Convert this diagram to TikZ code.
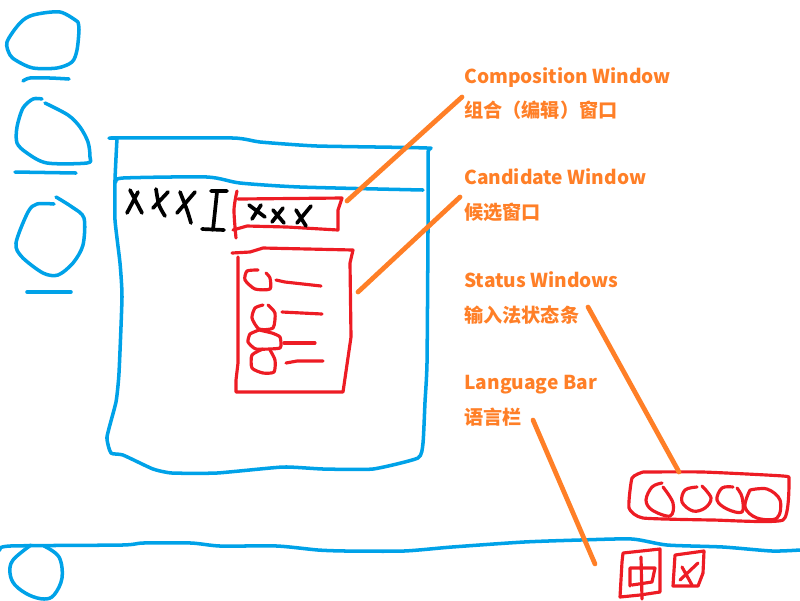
\documentclass[tikz,border=0pt]{standalone}
\usepackage{fontspec}
\setmainfont{Noto Sans CJK SC}
\tikzset{
  bluepen/.style={draw=penblue,line width=2pt,line cap=round,line join=round},
  redpen/.style={draw=penred,line width=1.8pt,line cap=round,line join=round},
  blackpen/.style={draw=black,line width=2.1pt,line cap=round,line join=round},
  leader/.style={draw=penorange,line width=2.7pt,line cap=round},
  caption/.style={anchor=base west,inner sep=0pt,text=penorange,font=\fontsize{10.9pt}{13pt}\selectfont\bfseries}
}
\definecolor{penblue}{HTML}{00A2E8}
\definecolor{penred}{HTML}{ED1C24}
\definecolor{penorange}{HTML}{FF7F27}
\begin{document}
\begin{tikzpicture}[x=0.02cm,y=-0.02cm]
      \useasboundingbox (0,0) rectangle (800,600);
      % desktop icons
      \draw[bluepen] plot[smooth,tension=0.5] coordinates {(78,22) (60,12) (33,15) (20,23) (7,42) (10,55) (17,61) (33,68) (57,68) (72,62) (77,50) (79,30) (78,22)};
      \draw[bluepen] plot[smooth,tension=0.5] coordinates {(23,81) (30,78) (50,78) (69,79)};
      \draw[bluepen] plot[smooth,tension=0.5] coordinates {(42,99) (33,99) (23,108) (17,127) (17,143) (27,153) (47,163) (87,163) (90,157) (88,142) (80,127) (68,115) (45,103)};
      \draw[bluepen] (15,172) -- (76,173);
      \draw[bluepen] plot[smooth,tension=0.5] coordinates {(54,204) (37,204) (28,212) (16,243) (22,257) (43,273) (58,275) (73,263) (83,245) (84,218) (72,207) (56,197)};
      \draw[bluepen] (27,292) -- (71,292);
      % application window
      \draw[bluepen] plot[smooth,tension=0.3] coordinates {(109,138) (233,138) (260,142) (317,146) (427,148) (428,153) (428,230) (427,363) (425,402) (423,443) (418,458) (373,469) (323,469) (283,467) (217,473) (172,473) (153,469) (123,455) (111,453) (107,437) (116,402) (119,373) (122,297) (120,263) (115,220) (115,180) (117,138)};
      \draw[bluepen] plot[smooth,tension=0.4] coordinates {(116,182) (123,178) (207,177) (240,183) (300,187) (423,190)};
      % typed text and caret
      \draw[blackpen] (130,190) -- (142,213) (138,192) -- (127,213);
      \draw[blackpen] plot[smooth] coordinates {(156,189) (159,205) (165,216)} (168,192) -- (153,208);
      \draw[blackpen] plot[smooth] coordinates {(180,192) (187,210) (191,223)} (195,192) -- (177,213);
      \draw[blackpen] (211,191) -- (227,191) (217,192) -- (213,230) (202,229) -- (224,230);
      % composition window
      \draw[redpen] plot[smooth] coordinates {(237,191) (234,210) (236,238)};
      \draw[redpen] (238,199) -- (342,198) -- (338,210) -- (338,230) -- (287,227) -- (247,226) -- (233,230);
      \draw[blackpen] (249,205) -- (265,217) (261,205) -- (252,219);
      \draw[blackpen] (273,210) -- (284,223) (283,208) -- (272,222);
      \draw[blackpen] (296,210) -- (306,226) (311,206) -- (297,223);
      % candidate window
      \draw[redpen] (232,253) -- (250,252) -- (263,248) -- (353,250) -- (350,263) -- (351,337) -- (343,392) -- (236,392) -- (236,380) -- (238,363) -- (238,257);
      \draw[redpen] plot[smooth,tension=0.4] coordinates {(258,270) (247,271) (245,280) (255,289) (270,289) (270,278) (266,273)};
      \draw[redpen] (276,280) -- (285,282) -- (321,286);
      \draw[redpen] plot[smooth,tension=0.4] coordinates {(263,305) (255,308) (252,318) (259,329) (273,328) (275,313) (268,305)};
      \draw[redpen] (282,312) -- (322,314);
      \draw[redpen] plot[smooth,tension=0.3] coordinates {(259,330) (250,334) (248,342) (256,349) (280,348) (280,337) (272,333) (259,330)};
      \draw[redpen] (284,343) -- (315,343);
      \draw[redpen] plot[smooth,tension=0.4] coordinates {(263,349) (252,355) (252,368) (263,373) (274,372) (275,360) (270,350)};
      \draw[redpen] (286,363) -- (297,361) -- (323,361);
      % taskbar
      \draw[bluepen] plot[smooth,tension=0.4] coordinates {(0,550) (10,546) (122,545) (143,543) (191,543) (220,546) (277,546) (318,550) (346,551) (404,551) (452,547) (524,542) (580,540) (632,539) (667,545) (723,547) (772,551) (800,550)};
      \draw[bluepen] plot[smooth,tension=0.6] coordinates {(31,545) (13,560) (10,573) (15,585) (29,595) (44,599) (54,595) (62,578) (59,557) (44,546)};
      % status window
      \draw[redpen] plot[smooth,tension=0.3] coordinates {(643,472) (703,472) (783,476) (789,480) (783,520) (713,520) (643,518) (629,508) (632,478) (643,472)};
      \draw[redpen] plot[smooth,tension=0.6] coordinates {(662,483) (652,487) (646,500) (652,510) (670,516) (673,503) (663,487)};
      \draw[redpen] plot[smooth,tension=0.6] coordinates {(697,487) (685,490) (682,502) (693,511) (705,508) (711,498) (702,486)};
      \draw[redpen] plot[smooth,tension=0.6] coordinates {(733,487) (722,488) (717,500) (727,509) (742,512) (742,497) (737,488)};
      \draw[redpen] plot[smooth,tension=0.6] coordinates {(750,490) (767,489) (780,500) (777,518) (757,518) (745,507) (750,490)};
      % language bar
      \draw[redpen] (623,553) -- (660,549) -- (660,592) -- (640,595) -- (620,597) -- (622,562) -- (623,553);
      \draw[redpen] (630,568) -- (630,586) (630,568) -- (655,568) -- (652,582) -- (632,585) (641,557) -- (642,599);
      \draw[redpen] (675,555) -- (704,551) -- (703,573) -- (698,586) -- (673,586) -- (675,555);
      \draw[redpen] (682,567) -- (692,585) (698,563) -- (680,580);
      % captions
      \node[caption] (compEn) at (464,83) {Composition Window};
      \node[caption] (compCn) at (464,117) {组合（编辑）窗口};
      \node[caption] (candEn) at (464,184) {Candidate Window};
      \node[caption] (candCn) at (464,219) {候选窗口};
      \node[caption] (statEn) at (464,287) {Status Windows};
      \node[caption] (statCn) at (464,322) {输入法状态条};
      \node[caption] (langEn) at (464,389) {Language Bar};
      \node[caption] (langCn) at (464,424) {语言栏};
      % leaders
      \coordinate (compFrom) at (462,97);
      \coordinate (compTo) at (347,201);
      \coordinate (candFrom) at (460,197);
      \coordinate (candTo) at (358,292);
      \coordinate (statFrom) at (588,307);
      \coordinate (statTo) at (679,472);
      \coordinate (langFrom) at (533,420);
      \coordinate (langTo) at (595,564);
      \draw[leader] (compFrom) -- (compTo);
      \draw[leader] (candFrom) -- (candTo);
      \draw[leader] (statFrom) -- (statTo);
      \draw[leader] (langFrom) -- (langTo);
\end{tikzpicture}
\end{document}
